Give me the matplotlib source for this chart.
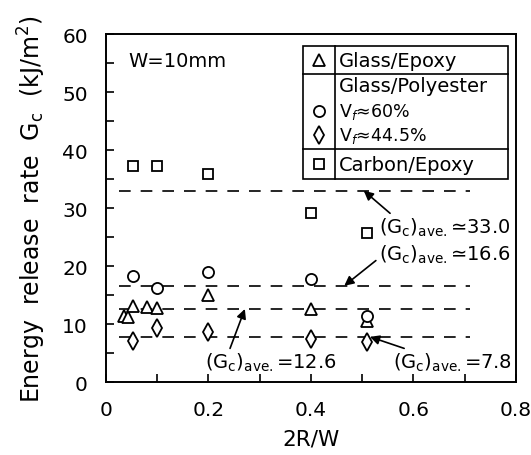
import matplotlib
matplotlib.use("Agg")
import matplotlib.pyplot as plt
from matplotlib.patches import Rectangle
from matplotlib.ticker import MultipleLocator

plt.rcParams['font.family'] = ['DejaVu Sans']
plt.rcParams['mathtext.fontset'] = 'dejavusans'

# Data (2R/W, Gc)
tri_x = [0.035, 0.043, 0.052, 0.08, 0.10, 0.20, 0.40, 0.51]
tri_y = [11.4, 11.2, 13.1, 12.9, 12.7, 15.0, 12.6, 10.6]
circ_x = [0.052, 0.10, 0.20, 0.40, 0.51]
circ_y = [18.3, 16.2, 19.0, 17.8, 11.4]
dia_x = [0.052, 0.10, 0.20, 0.40, 0.51]
dia_y = [7.1, 9.3, 8.6, 7.4, 6.9]
sq_x = [0.052, 0.10, 0.20, 0.40, 0.51]
sq_y = [37.3, 37.2, 35.9, 29.2, 25.7]

avg_values = [33.0, 16.6, 12.6, 7.8]
avg_xrange = (0.025, 0.71)

fig = plt.figure(figsize=(5.31, 4.56), dpi=100)
ax = fig.add_axes([0.1996, 0.160, 0.772, 0.763])

ms = 8
mew = 1.3
ax.plot(tri_x, tri_y, linestyle='none', marker='^', ms=ms, mfc='white', mec='black', mew=mew, zorder=3)
ax.plot(circ_x, circ_y, linestyle='none', marker='o', ms=ms, mfc='white', mec='black', mew=mew, zorder=3)
ax.plot(dia_x, dia_y, linestyle='none', marker='d', ms=ms + 1, mfc='white', mec='black', mew=mew, zorder=3)
ax.plot(sq_x, sq_y, linestyle='none', marker='s', ms=ms - 1, mfc='white', mec='black', mew=mew, zorder=3)

for v in avg_values:
    ax.plot(list(avg_xrange), [v, v], color='black', lw=1.2, dashes=(7, 6), zorder=2)

ax.set_xlim(0, 0.8)
ax.set_ylim(0, 60)
ax.xaxis.set_major_locator(MultipleLocator(0.2))
ax.xaxis.set_minor_locator(MultipleLocator(0.1))
ax.yaxis.set_major_locator(MultipleLocator(10))
ax.yaxis.set_minor_locator(MultipleLocator(5))
ax.tick_params(which='both', direction='in', length=6, width=1.2, top=False, right=False)
ax.tick_params(axis='y', labelsize=14.5, pad=13)
ax.tick_params(axis='x', labelsize=14.5, pad=13)
ax.set_xticks([0, 0.2, 0.4, 0.6, 0.8])
ax.set_xticklabels(['0', '0.2', '0.4', '0.6', '0.8'])
for s in ax.spines.values():
    s.set_linewidth(1.4)

ax.set_xlabel('2R/W', fontsize=15.5, labelpad=7)
ax.set_ylabel(r'Energy  release  rate  G$_\mathregular{c}$  (kJ/m$^2$)', fontsize=17, labelpad=10)

ax.text(0.055, 0.925, 'W=10mm', transform=ax.transAxes, fontsize=14, va='center')

# Legend table
tr = ax.transAxes
x0, x1, xd = 0.48, 0.98, 0.559
yt, yb = 0.966, 0.583
y1, y2 = 0.885, 0.670
ax.add_patch(Rectangle((x0, yb), x1 - x0, yt - yb, transform=tr, fill=True,
                       facecolor='white', edgecolor='black', lw=1.2, zorder=4))
ax.plot([xd, xd], [yb, yt], transform=tr, color='black', lw=1.2, zorder=5)
ax.plot([x0, x1], [y1, y1], transform=tr, color='black', lw=1.2, zorder=5)
ax.plot([x0, x1], [y2, y2], transform=tr, color='black', lw=1.2, zorder=5)
sx = 0.52
tx = 0.568
rows = [
    (0.925, '^', 'Glass/Epoxy', ms),
    (0.851, None, 'Glass/Polyester', ms),
    (0.779, 'o', r'V$_f$≈60%', ms),
    (0.710, 'd', r'V$_f$≈44.5%', ms + 1),
    (0.626, 's', 'Carbon/Epoxy', ms - 1),
]
for y, m, lab, size in rows:
    if m is not None:
        ax.plot([sx], [y], transform=tr, linestyle='none', marker=m, ms=size,
                mfc='white', mec='black', mew=mew, zorder=6)
    fs = 14 if 'V$' not in lab else 12.5
    ax.text(tx, y, lab, transform=tr, fontsize=fs, va='center', ha='left', zorder=6)

# Annotations
ann_fs = 14
lab = r'$(\mathrm{G_c})_{\mathrm{ave.}}$'
ax.annotate(lab + '≃33.0', xy=(0.503, 33.0), xytext=(0.789, 26.7), textcoords='data',
            fontsize=ann_fs, ha='right', va='center',
            arrowprops=dict(arrowstyle='-|>', color='black', lw=1.2, shrinkA=0, shrinkB=0,
                            relpos=(0.13, 0.9)))
ax.annotate(lab + '≃16.6', xy=(0.465, 16.6), xytext=(0.789, 22.1), textcoords='data',
            fontsize=ann_fs, ha='right', va='center',
            arrowprops=dict(arrowstyle='-|>', color='black', lw=1.2, shrinkA=0, shrinkB=0,
                            relpos=(0.0, 0.3)))
ax.annotate(lab + '=12.6', xy=(0.271, 12.6), xytext=(0.193, 3.4), textcoords='data',
            fontsize=ann_fs, ha='left', va='center',
            arrowprops=dict(arrowstyle='-|>', color='black', lw=1.2, shrinkA=0, shrinkB=0,
                            relpos=(0.18, 0.95)))
ax.annotate(lab + '=7.8', xy=(0.515, 7.8), xytext=(0.792, 3.4), textcoords='data',
            fontsize=ann_fs, ha='right', va='center',
            arrowprops=dict(arrowstyle='-|>', color='black', lw=1.2, shrinkA=0, shrinkB=0,
                            relpos=(0.19, 0.95)))

fig.savefig('out.png', dpi=100)
